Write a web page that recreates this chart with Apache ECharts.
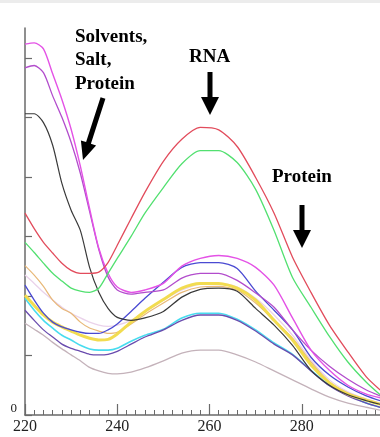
<!DOCTYPE html>
<html>
<head>
<meta charset="utf-8">
<title>UV absorbance spectra</title>
<script src="https://cdn.jsdelivr.net/npm/echarts@6/dist/echarts.min.js"></script>
<style>
  html, body { margin: 0; padding: 0; background: #ffffff; overflow: hidden; }
  #chart { width: 380px; height: 437px; }
</style>
</head>
<body>
<div id="chart"></div>
<script>
// Wavelength grid (nm) shared by every spectrum
const wavelengths = [220, 222, 224, 226, 228, 230, 232, 234, 236, 238, 240, 243, 246, 250, 254, 258, 262, 266, 270, 274, 278, 282, 286, 290, 294, 297];

// Absorbance readings, one array per sample
const greySample    = [1.54, 1.44, 1.34, 1.22, 1.11, 1.01, 0.91, 0.80, 0.74, 0.70, 0.69, 0.72, 0.79, 0.91, 1.04, 1.09, 1.09, 1.01, 0.89, 0.74, 0.59, 0.44, 0.30, 0.20, 0.13, 0.08];
const pinkSample    = [2.35, 2.21, 2.06, 1.93, 1.81, 1.71, 1.63, 1.56, 1.51, 1.49, 1.51, 1.59, 1.73, 1.93, 2.10, 2.20, 2.21, 2.15, 1.96, 1.68, 1.34, 0.92, 0.59, 0.39, 0.27, 0.20];
const tanSample     = [2.51, 2.35, 2.16, 1.93, 1.79, 1.71, 1.56, 1.46, 1.41, 1.37, 1.39, 1.53, 1.69, 1.88, 2.06, 2.15, 2.16, 2.10, 1.88, 1.59, 1.29, 0.89, 0.55, 0.37, 0.25, 0.18];
const cyanSample    = [1.96, 1.76, 1.59, 1.46, 1.34, 1.26, 1.17, 1.11, 1.09, 1.09, 1.12, 1.24, 1.34, 1.44, 1.63, 1.71, 1.71, 1.61, 1.43, 1.21, 1.02, 0.75, 0.50, 0.34, 0.20, 0.13];
const purpleSample  = [1.76, 1.59, 1.43, 1.31, 1.19, 1.12, 1.07, 1.02, 1.01, 1.02, 1.07, 1.19, 1.31, 1.43, 1.59, 1.68, 1.68, 1.59, 1.41, 1.19, 1.01, 0.74, 0.49, 0.32, 0.20, 0.13];
const yellowSample  = [2.01, 1.84, 1.68, 1.56, 1.48, 1.41, 1.34, 1.29, 1.26, 1.27, 1.36, 1.56, 1.74, 1.94, 2.13, 2.21, 2.21, 2.13, 1.93, 1.59, 1.26, 0.84, 0.54, 0.35, 0.25, 0.18];
const blueSample    = [2.18, 1.93, 1.71, 1.56, 1.48, 1.43, 1.39, 1.37, 1.37, 1.43, 1.53, 1.74, 1.96, 2.23, 2.48, 2.56, 2.56, 2.46, 2.08, 1.76, 1.43, 0.97, 0.67, 0.47, 0.32, 0.24];
const blackSample   = [5.06, 5.06, 4.91, 4.53, 3.89, 3.44, 3.10, 2.48, 2.06, 1.79, 1.64, 1.59, 1.63, 1.74, 1.98, 2.11, 2.13, 2.08, 1.79, 1.51, 1.17, 0.75, 0.50, 0.34, 0.24, 0.18];
const orchidSample  = [5.83, 5.87, 5.75, 5.36, 5.00, 4.58, 4.06, 3.42, 2.78, 2.32, 2.10, 2.03, 2.06, 2.10, 2.30, 2.38, 2.38, 2.26, 2.05, 1.81, 1.43, 1.09, 0.82, 0.60, 0.42, 0.32];
const magentaSample = [6.23, 6.25, 6.15, 5.73, 5.30, 4.80, 4.18, 3.47, 2.80, 2.38, 2.15, 2.06, 2.10, 2.21, 2.50, 2.63, 2.68, 2.63, 2.48, 2.18, 1.63, 1.09, 0.75, 0.50, 0.35, 0.29];
const greenSample   = [2.90, 2.73, 2.55, 2.38, 2.25, 2.13, 2.08, 2.06, 2.13, 2.38, 2.63, 3.00, 3.39, 3.82, 4.22, 4.44, 4.44, 4.24, 3.79, 3.10, 2.31, 1.81, 1.32, 0.89, 0.55, 0.34];
const redSample     = [3.39, 3.13, 2.90, 2.72, 2.55, 2.43, 2.38, 2.38, 2.40, 2.56, 2.85, 3.30, 3.74, 4.26, 4.63, 4.83, 4.79, 4.51, 3.99, 3.39, 2.65, 2.06, 1.51, 1.06, 0.64, 0.42];

// Axis tick labels
const xTickLabels = [220, 240, 260, 280];
const xTickMarks = [220, 240, 260, 280, 300];
const yTickLabels = [0];
const yTickMarks = [0, 1, 2, 3, 4, 5, 6];

// Drawing order (back to front) and line styling
const spectra = [
  { name: 'grey',    values: greySample,    color: '#c4b2ba', width: 1.3 },
  { name: 'pink',    values: pinkSample,    color: '#ead2ea', width: 1.3 },
  { name: 'tan',     values: tanSample,     color: '#e8b878', width: 1.2 },
  { name: 'cyan',    values: cyanSample,    color: '#48dcef', width: 1.6 },
  { name: 'purple',  values: purpleSample,  color: '#6a4cae', width: 1.3 },
  { name: 'yellow',  values: yellowSample,  color: '#f2dc50', width: 3.0 },
  { name: 'blue',    values: blueSample,    color: '#4a4ad2', width: 1.3 },
  { name: 'black',   values: blackSample,   color: '#3a3a3a', width: 1.2 },
  { name: 'orchid',  values: orchidSample,  color: '#b24ccc', width: 1.3 },
  { name: 'magenta', values: magentaSample, color: '#e452e6', width: 1.4 },
  { name: 'green',   values: greenSample,   color: '#52e070', width: 1.3 },
  { name: 'red',     values: redSample,     color: '#e24c5c', width: 1.3 }
];

const chart = echarts.init(document.getElementById('chart'), null, { renderer: 'canvas' });

const serif = '"Liberation Serif", "Times New Roman", serif';
const axisGrey = '#6a6a6a';

chart.setOption({
  animation: false,
  backgroundColor: '#ffffff',
  // the plot runs past the right edge so that 297 nm sits on the border
  grid: { left: 25, right: -14, top: 28, bottom: 22, containLabel: false, outerBoundsMode: 'none' },
  xAxis: {
    type: 'value',
    min: 220,
    max: 300,
    interval: 20,
    axisLine: { show: true, lineStyle: { color: axisGrey, width: 1.5 } },
    axisTick: { show: true, inside: true, length: 11, customValues: xTickMarks, lineStyle: { color: axisGrey, width: 1.2 } },
    minorTick: { show: true, splitNumber: 10, length: 5, lineStyle: { color: axisGrey, width: 1 } },
    axisLabel: {
      customValues: xTickLabels,
      color: '#222',
      fontFamily: serif,
      fontSize: 16,
      margin: 4
    },
    splitLine: { show: false },
    minorSplitLine: { show: false }
  },
  yAxis: {
    type: 'value',
    min: 0,
    max: 6.5,
    interval: 1,
    axisLine: { show: true, lineStyle: { color: axisGrey, width: 1.5 } },
    axisTick: { show: true, inside: true, length: 7, customValues: yTickMarks, lineStyle: { color: axisGrey, width: 1.2 } },
    axisLabel: {
      customValues: yTickLabels,
      color: '#222',
      fontFamily: serif,
      fontSize: 13,
      margin: 8,
      verticalAlign: 'bottom'
    },
    splitLine: { show: false }
  },
  series: spectra.map(s => ({
    name: s.name,
    type: 'line',
    data: wavelengths.map((w, i) => [w, s.values[i]]),
    smooth: 0.25,
    symbol: 'none',
    lineStyle: { color: s.color, width: s.width },
    emphasis: { disabled: true },
    z: 2
  })),
  graphic: [
    // thin grey band along the top edge
    { type: 'rect', left: 0, top: 0, shape: { width: 380, height: 3 }, style: { fill: '#ececec' }, silent: true },
    {
      type: 'text', x: 75, y: 25, silent: true,
      style: { text: 'Solvents,\nSalt,\nProtein', font: 'bold 19px ' + serif, fill: '#000', lineHeight: 23.5 }
    },
    {
      type: 'polygon', silent: true,
      shape: { points: [[100.6, 97.2], [105.4, 98.8], [90.9, 143.7], [96.1, 145.4], [83, 160], [80.9, 140.4], [86.1, 142.1]] },
      style: { fill: '#000' }
    },
    {
      type: 'text', x: 189, y: 48, silent: true,
      style: { text: 'RNA', font: 'bold 19px ' + serif, fill: '#000' }
    },
    {
      type: 'polygon', silent: true,
      shape: { points: [[207.5, 72], [212.5, 72], [212.5, 97], [219, 97], [210, 115], [201, 97], [207.5, 97]] },
      style: { fill: '#000' }
    },
    {
      type: 'text', x: 272, y: 168, silent: true,
      style: { text: 'Protein', font: 'bold 19px ' + serif, fill: '#000' }
    },
    {
      type: 'polygon', silent: true,
      shape: { points: [[299.5, 205], [304.5, 205], [304.5, 230], [311, 230], [302, 248], [293, 230], [299.5, 230]] },
      style: { fill: '#000' }
    }
  ]
});
</script>
</body>
</html>
